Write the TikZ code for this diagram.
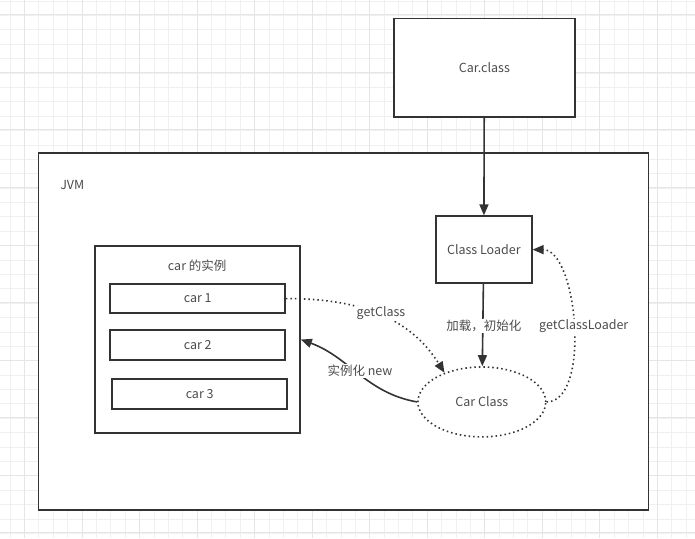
\documentclass[tikz,border=0pt]{standalone}
\usepackage{fontspec}
\setmainfont{Noto Sans CJK SC}
\usetikzlibrary{shapes.geometric,arrows.meta}

\tikzset{
  box/.style={draw=black!80, line width=1.6pt, rectangle, fill=white},
  dots/.style={line width=1.6pt, dash pattern=on 1.5pt off 3pt, draw=black!80},
  lbl/.style={fill=white, inner sep=1pt, text=black!70}
}

\begin{document}
\begin{tikzpicture}[x=1pt, y=-1pt, font=\fontsize{12.5}{14}\selectfont, text=black!70,
    >={Triangle[length=11pt,width=9pt]}]
        % background grid
        \fill[white] (0,0) rectangle (695,538);
        \foreach \gx in {9.6,24,...,695} \draw[black!6, line width=0.6pt] (\gx,0) -- (\gx,538);
        \foreach \gy in {0.6,15,...,538} \draw[black!6, line width=0.6pt] (0,\gy) -- (695,\gy);
        \foreach \gx in {24,81.6,...,695} \draw[black!10, line width=0.8pt] (\gx,0) -- (\gx,538);
        \foreach \gy in {14.4,72,...,538} \draw[black!10, line width=0.8pt] (0,\gy) -- (695,\gy);
        \useasboundingbox (0,0) rectangle (695,538);

        % JVM frame
        \node[box, minimum width=611pt, minimum height=357pt] (jvm) at (343.5,331.5) {};
        \node (jvmlabel) at (72,185) {JVM};

        \node[box, minimum width=181pt, minimum height=99pt] (carfile) at (484.5,67.5) {Car.class};
        \node[box, minimum width=96pt, minimum height=67pt] (loader) at (484,249.5) {Class Loader};
        \node[ellipse, dots, fill=white, minimum width=128pt, minimum height=70pt] (carclass) at (482,402) {Car Class};

        % instances of car
        \node[box, minimum width=205pt, minimum height=187pt] (instances) at (197.5,339.5) {};
        \node (insttitle) at (197,266) {car 的实例};
        \node[box, minimum width=175pt, minimum height=29pt] (car1) at (197.5,298.5) {car 1};
        \node[box, minimum width=175pt, minimum height=30pt] (car2) at (197.5,345) {car 2};
        \node[box, minimum width=175pt, minimum height=30pt] (car3) at (199.5,394) {car 3};

        \draw[->, line width=1.6pt, black!80] (carfile) -- (loader);
        \draw[->, line width=1.6pt, black!80] (loader) -- (carclass);
        \draw[->, dots] (car1.east) to[out=0, in=122] (carclass.142);
        \draw[->, dots] (carclass.east) to[out=0, in=0, looseness=0.75] (loader.east);
        \draw[->, line width=1.6pt, black!80] (carclass.west) to[out=170, in=-20] (instances.east);

        \node[lbl] (loadlabel) at (484,326) {加载，初始化};
        \node[lbl] (getclass) at (381,313) {getClass};
        \node[lbl] (getloader) at (584,326) {getClassLoader};
        \node[lbl] (newlabel) at (360,371) {实例化 new};
    \end{tikzpicture}
\end{document}
